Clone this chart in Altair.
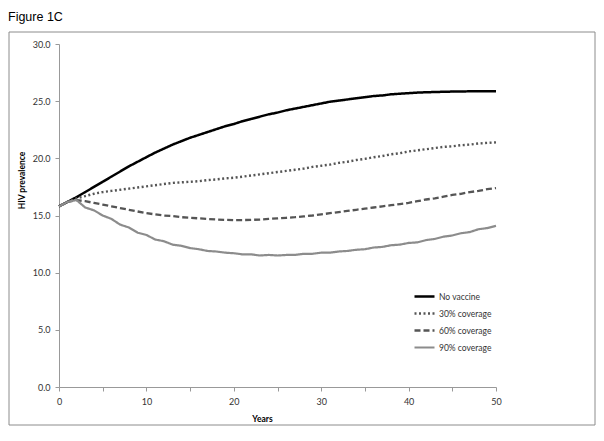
import altair as alt
import pandas as pd

years = list(range(0, 51))
series_names = ["No vaccine", "30% coverage", "60% coverage", "90% coverage"]

no_vaccine = [15.8, 16.2, 16.6, 17.05, 17.5, 17.95, 18.4, 18.85, 19.3, 19.7,
              20.1, 20.5, 20.85, 21.2, 21.5, 21.8, 22.05, 22.3, 22.55, 22.8,
              23.0, 23.25, 23.45, 23.65, 23.85, 24.0, 24.2, 24.35, 24.5, 24.65,
              24.8, 24.95, 25.05, 25.15, 25.25, 25.35, 25.45, 25.5, 25.6, 25.65,
              25.7, 25.75, 25.78, 25.8, 25.82, 25.84, 25.85, 25.86, 25.86, 25.86,
              25.86]
cov30 = [15.8, 16.2, 16.5, 16.7, 16.9, 17.05, 17.15, 17.25, 17.35, 17.45,
         17.55, 17.65, 17.75, 17.85, 17.9, 17.95, 18.0, 18.1, 18.15, 18.25,
         18.3, 18.4, 18.5, 18.6, 18.7, 18.8, 18.9, 19.0, 19.1, 19.25,
         19.35, 19.45, 19.6, 19.7, 19.85, 19.95, 20.1, 20.2, 20.35, 20.45,
         20.6, 20.7, 20.8, 20.9, 21.0, 21.05, 21.15, 21.2, 21.3, 21.35,
         21.4]
cov60 = [15.8, 16.2, 16.35, 16.25, 16.1, 15.95, 15.8, 15.65, 15.5, 15.35,
         15.2, 15.1, 15.0, 14.95, 14.85, 14.8, 14.75, 14.7, 14.65, 14.62,
         14.6, 14.6, 14.62, 14.65, 14.7, 14.75, 14.8, 14.85, 14.92, 15.0,
         15.1, 15.2, 15.3, 15.4, 15.5, 15.6, 15.7, 15.8, 15.9, 16.0,
         16.1, 16.25, 16.4, 16.5, 16.65, 16.8, 16.9, 17.05, 17.15, 17.3,
         17.4]
cov90 = [15.8, 16.2, 16.35, 15.7, 15.45, 15.0, 14.7, 14.2, 13.95, 13.5,
         13.3, 12.9, 12.75, 12.45, 12.35, 12.15, 12.05, 11.9, 11.85, 11.75,
         11.7, 11.6, 11.6, 11.5, 11.55, 11.5, 11.55, 11.55, 11.65, 11.65,
         11.75, 11.75, 11.85, 11.9, 12.0, 12.05, 12.2, 12.25, 12.4, 12.45,
         12.6, 12.65, 12.85, 12.95, 13.15, 13.25, 13.45, 13.55, 13.8, 13.9,
         14.1]

x_tick_values = [0, 5, 10, 15, 20, 25, 30, 35, 40, 45, 50]
y_tick_values = [0, 5, 10, 15, 20, 25, 30]

rows = []
for name, vals in zip(series_names, [no_vaccine, cov30, cov60, cov90]):
    for yr, v in zip(years, vals):
        rows.append({"Years": yr, "HIV prevalence": v, "Series": name})
df = pd.DataFrame(rows)

FONT = "Lato"
legend = alt.Legend(
    title=None, orient="none", legendX=354, legendY=241,
    symbolType="stroke", symbolSize=400, rowPadding=0,
    labelFont=FONT, labelFontSize=8.5, labelColor="#333333", labelOffset=3,
    symbolStrokeColor="#000000",
)

lines = alt.Chart(df).mark_line(strokeCap="butt", clip=False).encode(
    x=alt.X("Years:Q", scale=alt.Scale(domain=[0, 50], nice=False),
            axis=alt.Axis(values=x_tick_values,
                          labelExpr="datum.value % 10 === 0 ? datum.label : ''",
                          title="Years", titleX=203, titleY=31,
                          titleBaseline="middle", titleAlign="center",
                          titleFont=FONT, titleFontSize=8.5, titleFontWeight="bold",
                          titleColor="#000000",
                          labelFont=FONT, labelFontSize=9, labelColor="#333333",
                          labelPadding=6, tickSize=4, domainColor="#999999",
                          tickColor="#999999", grid=False, labelFlush=False)),
    y=alt.Y("HIV prevalence:Q", scale=alt.Scale(domain=[0, 30], nice=False),
            axis=alt.Axis(values=y_tick_values, format=".1f",
                          title="HIV prevalence", titleX=-38, titleY=136,
                          titleAlign="center", titleBaseline="middle",
                          titleFont=FONT, titleFontSize=8.5, titleFontWeight="bold",
                          titleColor="#000000",
                          labelFont=FONT, labelFontSize=9, labelColor="#333333",
                          labelPadding=5, tickSize=4, domainColor="#999999",
                          tickColor="#999999", grid=False)),
    color=alt.Color("Series:N",
                    scale=alt.Scale(domain=series_names,
                                    range=["#000000", "#555555", "#555555", "#8c8c8c"]),
                    legend=legend),
    strokeDash=alt.StrokeDash("Series:N",
                              scale=alt.Scale(domain=series_names,
                                              range=[[1, 0], [2, 2.5], [6, 3], [1, 0]]),
                              legend=legend),
    strokeWidth=alt.StrokeWidth("Series:N",
                                scale=alt.Scale(domain=series_names,
                                                range=[2.5, 2.2, 2.5, 2.5]),
                                legend=legend),
)

frame = alt.Chart(pd.DataFrame({"a": [0]})).mark_rect(
    fill="transparent", stroke="#8c8c8c", strokeWidth=1
).encode(x=alt.value(-50), x2=alt.value(536), y=alt.value(-12), y2=alt.value(381))

chart = alt.layer(frame, lines).properties(
    width=437, height=343,
    padding={"left": 51, "top": 36, "right": 100, "bottom": 50},
    autosize=alt.AutoSizeParams(type="none"),
    title=alt.TitleParams("Figure 1C", anchor="start", frame="group", dx=-51,
                          offset=8, font="Liberation Sans", fontSize=12.5,
                          fontWeight="normal", color="#000000"),
).configure_view(stroke=None)

chart.save("out.html", embed_options={"renderer": "svg", "actions": False})
